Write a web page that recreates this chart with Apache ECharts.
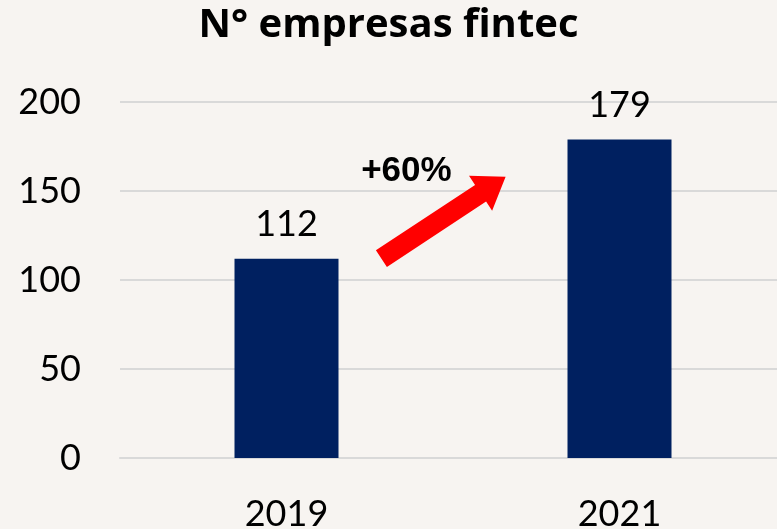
<!DOCTYPE html>
<html>
<head>
<meta charset="utf-8">
<script src="https://cdn.jsdelivr.net/npm/echarts@6/dist/echarts.min.js"></script>
<style>
  html, body { margin: 0; padding: 0; background: #f7f4f1; }
  #chart-container { width: 777px; height: 529px; }
</style>
</head>
<body>
<div id="chart-container"></div>
<script>
// datos del grafico
var years = ['2019', '2021'];
var empresas = [112, 179];
var yTicks = [0, 50, 100, 150, 200];
var growthText = '+60%';

var myChart = echarts.init(document.getElementById('chart-container'));

var fontFam = 'Lato, "Open Sans", sans-serif';

var option = {
    backgroundColor: '#f7f4f1',
    animation: false,
    title: {
        text: 'N° empresas fintec',
        left: 'center',
        top: 1,
        textStyle: { fontFamily: '"Open Sans", Lato, sans-serif', fontWeight: 'bold', fontSize: 40, color: '#000' }
    },
    grid: { left: 120, width: 666, top: 102, bottom: 71, outerBoundsMode: 'none' },
    xAxis: {
        type: 'category',
        data: years,
        axisLine: { lineStyle: { color: '#d9d9d9', width: 2 } },
        axisTick: { show: false },
        axisLabel: { fontFamily: fontFam, fontSize: 36, color: '#000', margin: 38 }
    },
    yAxis: {
        type: 'value',
        min: yTicks[0],
        max: yTicks[yTicks.length - 1],
        interval: 50,
        axisLine: { show: false },
        axisTick: { show: false },
        splitLine: { lineStyle: { color: '#d9d9d9', width: 2 } },
        axisLabel: { fontFamily: fontFam, fontSize: 36, color: '#000', margin: 39 }
    },
    series: [{
        type: 'bar',
        data: empresas,
        barWidth: 104,
        itemStyle: { color: '#002060' },
        label: {
            show: true,
            position: 'top',
            distance: 16,
            fontFamily: fontFam,
            fontSize: 36,
            color: '#000'
        }
    }]
};

myChart.setOption(option);

// punto entre las dos barras: f = fraccion entre categorias, v = valor del eje
function between(f, v) {
    var a = myChart.convertToPixel({ gridIndex: 0 }, [years[0], v]);
    var b = myChart.convertToPixel({ gridIndex: 0 }, [years[1], v]);
    return [a[0] + f * (b[0] - a[0]), a[1]];
}

// flecha de crecimiento
function drawArrow() {
    var p0 = between(0.285, 112);
    var p1 = between(0.658, 158);
    var dx = p1[0] - p0[0], dy = p1[1] - p0[1];
    var len = Math.sqrt(dx * dx + dy * dy);
    var ux = dx / len, uy = dy / len;
    var nx = -uy, ny = ux;
    var hw = 10, headW = 21, headL = 30;
    var bx = p1[0] - ux * headL, by = p1[1] - uy * headL;
    var pts = [
        [p0[0] + nx * hw, p0[1] + ny * hw],
        [bx + nx * hw, by + ny * hw],
        [bx + nx * headW, by + ny * headW],
        [p1[0], p1[1]],
        [bx - nx * headW, by - ny * headW],
        [bx - nx * hw, by - ny * hw],
        [p0[0] - nx * hw, p0[1] - ny * hw]
    ];
    var lp = between(0.36, 161);
    myChart.setOption({
        graphic: [
            { type: 'polygon', shape: { points: pts }, style: { fill: '#ff0000' } },
            {
                type: 'text', x: lp[0], y: lp[1],
                style: {
                    text: growthText, fontFamily: '"Liberation Sans", Arial, sans-serif', fontWeight: 'bold',
                    fontSize: 35, fill: '#000', align: 'center', verticalAlign: 'middle'
                }
            }
        ]
    });
}
drawArrow();
</script>
</body>
</html>
